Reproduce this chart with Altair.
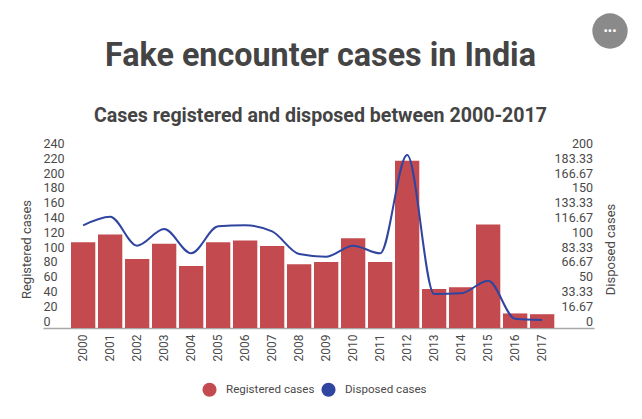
import altair as alt
import pandas as pd

years = [str(y) for y in range(2000, 2018)]
registered = [112, 122, 90, 110, 81, 112, 114, 107, 83, 86, 117, 86, 218, 51, 53, 135, 19, 18]
disposed = [111.6, 121, 89.5, 107.6, 81.2, 110.5, 111.6, 105, 80.4, 77.5, 89.5, 81.2, 188, 37, 37.7, 51.4, 10.1, 8.7]
left_ticks = list(range(0, 241, 20))
right_ticks = [0, 16.67, 33.33, 50, 66.67, 83.33, 100, 116.67, 133.33, 150, 166.67, 183.33, 200]
series_names = ["Registered cases", "Disposed cases"]
series_colors = ["#c34a4e", "#2f45a0"]
x_domain = [" "] + years + ["  "]

TEXT = "#4a4a4a"
FONT = "Roboto"
bars_df = pd.DataFrame({"year": years, "value": registered, "series": series_names[0]})
line_df = pd.DataFrame({"year": years, "value": disposed, "series": series_names[1]})

x = alt.X(
    "year:N",
    title=None,
    sort=years,
    scale=alt.Scale(domain=x_domain, paddingInner=0.1, paddingOuter=0.2535, align=0.073),
    axis=alt.Axis(labelAngle=270, labelAlign="right", labelBaseline="middle", labelPadding=6,
                  ticks=False, domainColor="#a8a8a8", domainWidth=1.5, labelColor=TEXT,
                  labelFont=FONT, labelFontSize=12, grid=False),
)
color = alt.Color(
    "series:N",
    scale=alt.Scale(domain=series_names, range=series_colors),
    legend=alt.Legend(title=None, orient="none", direction="horizontal", legendX=159, legendY=238,
                      symbolType="circle", symbolSize=200, symbolStrokeWidth=0, symbolOpacity=1,
                      labelFont=FONT, labelFontSize=11.6, labelColor=TEXT, columnPadding=6,
                      labelOffset=9, symbolOffset=0),
)

bars = alt.Chart(bars_df).mark_bar(opacity=1).encode(
    x=x,
    y=alt.Y(
        "value:Q",
        title="Registered cases",
        scale=alt.Scale(domain=[0, 240], nice=False),
        axis=alt.Axis(values=left_ticks, orient="left", ticks=False, domain=False, grid=False,
                      labelAlign="left", labelPadding=0, labelOffset=alt.expr("-7 + 0.0274 * datum.value"),
                      labelColor=TEXT, labelFont=FONT, labelFontSize=12.5,
                      titleFont=FONT, titleFontSize=13, titleFontWeight="normal", titleColor=TEXT,
                      titleAngle=270, titleX=-10, titleY=105),
    ),
    color=color,
)

line = alt.Chart(line_df).mark_line(interpolate="monotone", strokeWidth=2).encode(
    x=x,
    y=alt.Y(
        "value:Q",
        title="Disposed cases",
        scale=alt.Scale(domain=[0, 200], nice=False),
        axis=alt.Axis(values=right_ticks, orient="right", ticks=False, domain=False, grid=False,
                      format=".2~f", labelAlign="right", labelPadding=-1.5,
                      labelOffset=alt.expr("-7 + 0.0329 * datum.value"),
                      labelColor=TEXT, labelFont=FONT, labelFontSize=12.5,
                      titleFont=FONT, titleFontSize=13, titleFontWeight="normal", titleColor=TEXT,
                      titleAngle=270, titleX=23, titleY=105),
    ),
    color=color,
)

one = pd.DataFrame({"a": [0]})
button = alt.Chart(one).mark_circle(color="#8a8a8a", opacity=1, size=1250).encode(
    x=alt.value(567), y=alt.value(-113))
button_dots = alt.Chart(one).mark_text(text="•••", color="white", font=FONT, fontSize=13).encode(
    x=alt.value(567), y=alt.value(-113))

chart = (
    alt.layer(bars, line, button, button_dots)
    .resolve_scale(y="independent")
    .properties(
        width=551,
        height=184,
        autosize=alt.AutoSizeParams(type="none"),
        padding={"left": 35, "right": 40, "top": 136, "bottom": 75},
        title=alt.TitleParams(
            text="Fake encounter cases in India",
            subtitle="Cases registered and disposed between 2000-2017",
            anchor="middle",
            frame="group",
            dx=2,
            dy=112,
            offset=0,
            font=FONT,
            fontSize=32.3,
            fontWeight="bold",
            color="#444444",
            subtitleFont=FONT,
            subtitleFontSize=19.6,
            subtitleFontWeight="bold",
            subtitleColor="#444444",
            subtitlePadding=34,
        ),
        background="white",
    )
    .configure_view(stroke=None)
)

chart.save("out.html", embed_options={"renderer": "svg", "actions": False})
